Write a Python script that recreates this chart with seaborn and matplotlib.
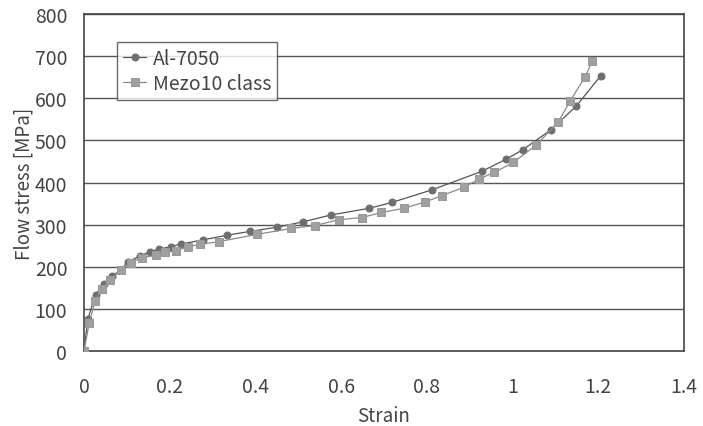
import numpy as np
import pandas as pd
import matplotlib
matplotlib.use("Agg")
import matplotlib.pyplot as plt
import seaborn as sns

al_strain = [0.0, 0.009, 0.027, 0.046, 0.065, 0.086, 0.103, 0.131, 0.154, 0.175,
             0.203, 0.226, 0.278, 0.334, 0.387, 0.45, 0.512, 0.576, 0.666, 0.719,
             0.813, 0.929, 0.984, 1.024, 1.089, 1.148, 1.206]
al_stress = [0, 76, 134, 158, 177, 193, 212, 226, 236, 242,
             248, 254, 264, 275, 284, 294, 307, 323, 339, 353,
             383, 427, 455, 478, 525, 581, 654]

mz_strain = [0.0, 0.012, 0.026, 0.041, 0.061, 0.086, 0.109, 0.136, 0.167, 0.19,
             0.215, 0.243, 0.271, 0.316, 0.404, 0.483, 0.538, 0.596, 0.649, 0.694,
             0.747, 0.796, 0.835, 0.887, 0.921, 0.957, 1.002, 1.055, 1.106, 1.134,
             1.169, 1.186]
mz_stress = [0, 66, 119, 147, 169, 193, 210, 221, 228, 234,
             238, 248, 253, 260, 277, 291, 298, 312, 317, 329,
             339, 354, 369, 389, 408, 424, 448, 489, 543, 593,
             651, 688]

x_ticks = [0, 0.2, 0.4, 0.6, 0.8, 1, 1.2, 1.4]
x_tick_labels = ["0", "0.2", "0.4", "0.6", "0.8", "1", "1.2", "1.4"]
y_ticks = [0, 100, 200, 300, 400, 500, 600, 700, 800]

sns.set_style("white")
plt.rcParams['font.family'] = ['Noto Sans CJK JP', 'DejaVu Sans']

fig = plt.figure(figsize=(7.03, 4.27), dpi=100)
ax = fig.add_axes([0.1195, 0.1756, 0.8535, 0.789])

df_al = pd.DataFrame({"Strain": al_strain, "Stress": al_stress})
df_mz = pd.DataFrame({"Strain": mz_strain, "Stress": mz_stress})

sns.lineplot(data=df_al, x="Strain", y="Stress", sort=False, ax=ax,
             color="#555555", linewidth=0.9, marker="o", markersize=5,
             markerfacecolor="#6e6e6e", markeredgecolor="#6e6e6e",
             label="Al-7050", zorder=3)
sns.lineplot(data=df_mz, x="Strain", y="Stress", sort=False, ax=ax,
             color="#8a8a8a", linewidth=0.9, marker="s", markersize=5.5,
             markerfacecolor="#a0a0a0", markeredgecolor="#999999",
             label="Mezo10 class", zorder=3)

ax.set_xlim(0, 1.4)
ax.set_ylim(0, 800)
ax.set_xticks(x_ticks)
ax.set_xticklabels(x_tick_labels)
ax.set_yticks(y_ticks)
ax.yaxis.grid(True, color="#555555", linewidth=1.0)
ax.xaxis.grid(False)
ax.set_axisbelow(True)
for s in ax.spines.values():
    s.set_color("#444444")
    s.set_linewidth(1.2)

ax.tick_params(axis="x", direction="in", length=5, width=1, color="#444444",
               labelsize=14, labelcolor="#444444", pad=18)
ax.tick_params(axis="y", length=0, labelsize=14, labelcolor="#444444", pad=12)

ax.set_xlabel("Strain", fontsize=13.5, color="#444444", labelpad=5.5)
ax.set_ylabel("Flow stress [MPa]", fontsize=13.5, color="#444444", labelpad=0.5)

leg = ax.legend(loc="upper left", bbox_to_anchor=(0.055, 0.917), fontsize=14,
                frameon=True, fancybox=False, edgecolor="#444444",
                handlelength=1.2, handletextpad=0.35, borderpad=0.3,
                labelspacing=0.2, borderaxespad=0)
leg.get_frame().set_linewidth(1.0)
for t in leg.get_texts():
    t.set_color("#444444")

fig.savefig("out.png", dpi=100)
